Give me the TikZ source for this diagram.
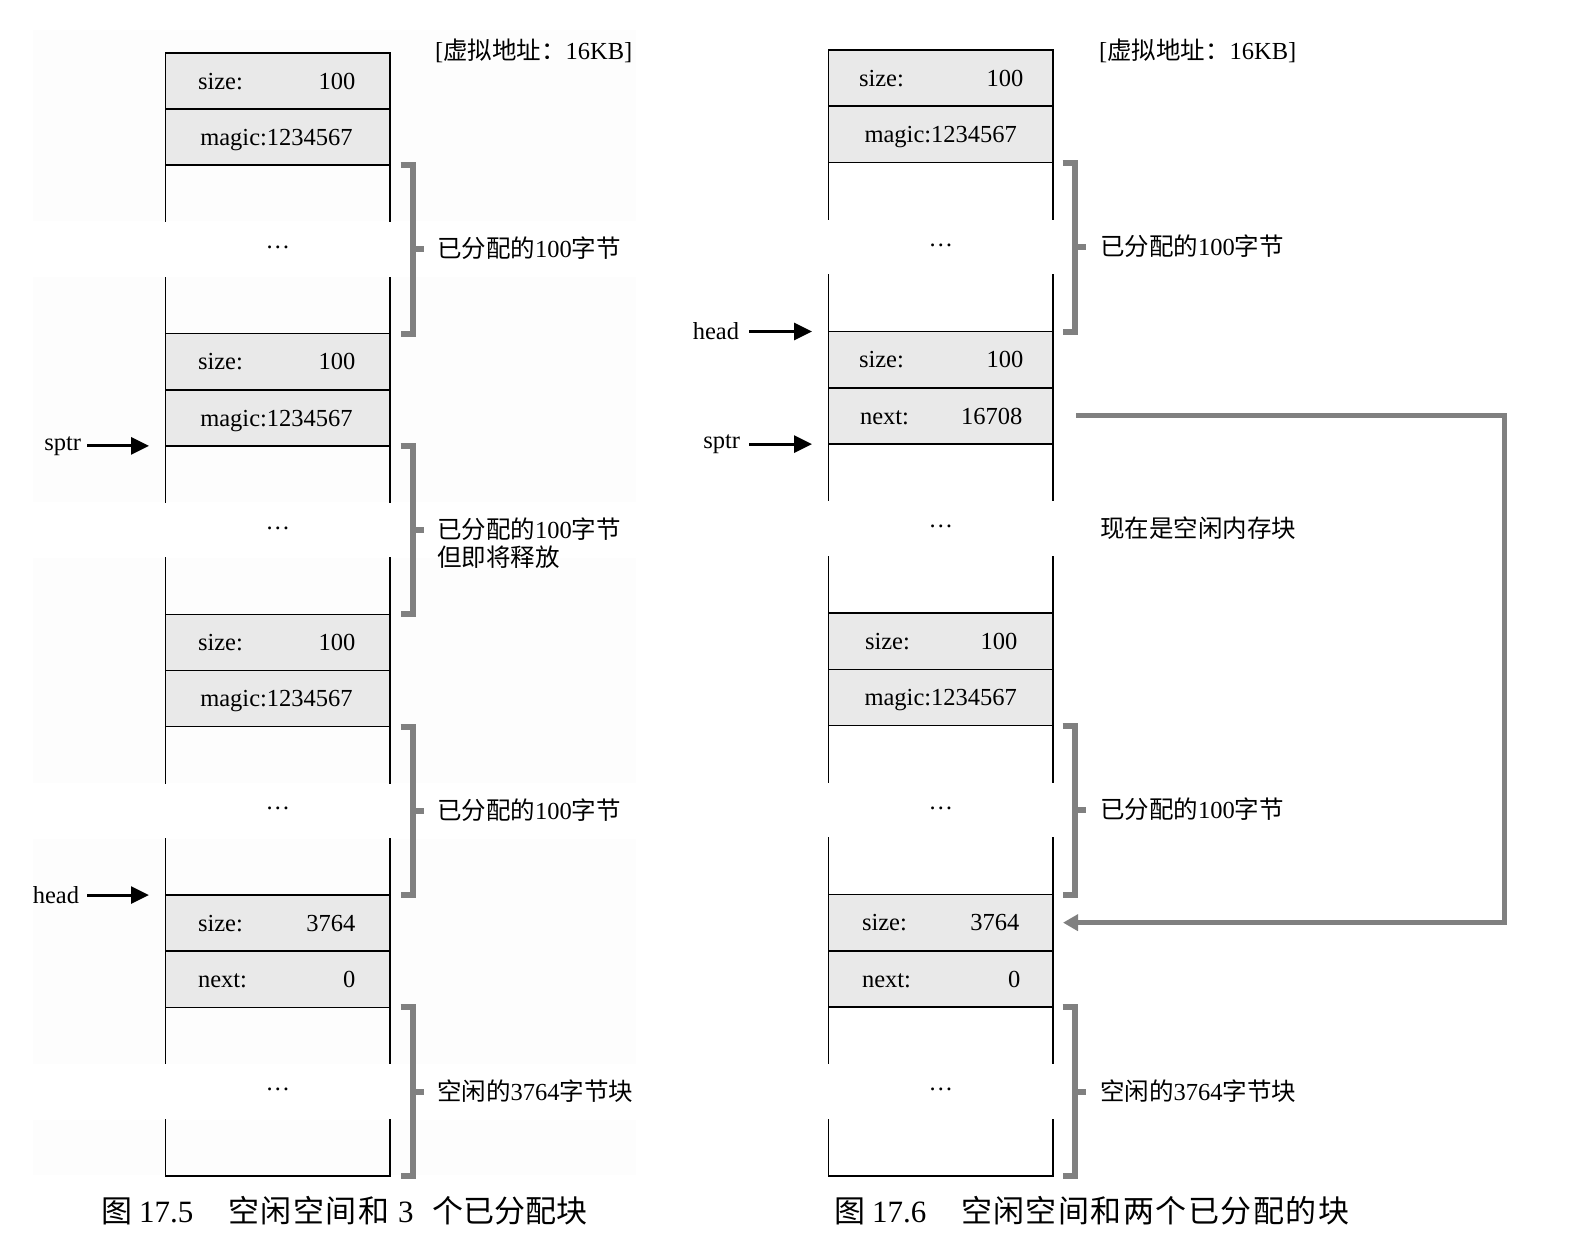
\documentclass[tikz,border=0pt]{standalone}
\usepackage{fontspec}
\setmainfont{Liberation Serif}
\newfontfamily\cjk{Noto Sans CJK SC}
\usetikzlibrary{arrows.meta}
\newcommand{\zh}[1]{{\cjk #1}}
\tikzset{
  lbl/.style={inner sep=0pt, outer sep=0pt, font=\fontsize{24.5}{28}\selectfont},
  hdr/.style={fill=gray!17, draw=black, line width=1.6pt},
  sidel/.style={draw=black, line width=1.6pt, line cap=rect},
  brk/.style={draw=gray, line width=6pt, line join=miter},
  ptr/.style={draw=black, line width=3pt, -{Triangle[length=18pt,width=17pt]}},
  link/.style={draw=gray, line width=5pt, line join=miter, -{Triangle[length=15pt,width=16pt]}},
  figcap/.style={inner sep=0pt, outer sep=0pt, anchor=base west, font=\fontsize{31}{36}\selectfont},
}
% x0 x1 top step
\newcommand{\memcol}[4]{%
  \foreach \b in {0,1,2,3}{%
    \pgfmathsetmacro{\ya}{#3+5*\b*#4}%
    \pgfmathsetmacro{\yb}{\ya+#4}%
    \pgfmathsetmacro{\yc}{\ya+2*#4}%
    \pgfmathsetmacro{\yd}{\ya+3*#4}%
    \pgfmathsetmacro{\ye}{\ya+4*#4}%
    \pgfmathsetmacro{\yf}{\ya+5*#4}%
    \draw[hdr] (#1,\ya) rectangle (#2,\yb);
    \draw[hdr] (#1,\yb) rectangle (#2,\yc);
    \draw[sidel] (#1,\yc) -- (#1,\yd) (#2,\yc) -- (#2,\yd) (#1,\ye) -- (#1,\yf) (#2,\ye) -- (#2,\yf);
  }%
  \draw[sidel] (#1,#3+20*#4) -- (#2,#3+20*#4);
}
% bracket: xv(vertical) ytop ybot
\newcommand{\membrk}[3]{%
  \draw[brk] (#1-12,#2) -- (#1,#2) -- (#1,#3) -- (#1-12,#3);
  \draw[brk] (#1,#2/2+#3/2) -- (#1+11,#2/2+#3/2);
}
\begin{document}
\begin{tikzpicture}[x=1pt,y=-1pt]
\useasboundingbox (0,0) rectangle (1592,1252);
% faint page tint of the left figure
\fill[gray!1.5] (33,30) rectangle (636,1175);
\foreach \k in {3,8,13,18}{
  \fill[white] (33,52.8+\k*56.15) rectangle (636,52.8+\k*56.15+56.15);
}
% columns
\memcol{165.5}{390}{52.8}{56.15}
\memcol{828.5}{1053}{50}{56.3}
% brackets left
\membrk{412.5}{165.1}{333.55}
\membrk{412.5}{445.85}{614.3}
\membrk{412.5}{726.6}{895.05}
\membrk{412.5}{1007.35}{1175.8}
% brackets right
\membrk{1074.5}{162.6}{331.5}
\membrk{1074.5}{725.6}{894.5}
\membrk{1074.5}{1007.1}{1176}

% ---- left column texts ----
\node[lbl, anchor=base west] (La0) at (198, 89.2) {size:};
\node[lbl, anchor=base east] (Lb0) at (355.4, 89.2) {100};
\node[lbl, anchor=base] (Lm0) at (276.5, 145.3) {magic:1234567};
\node[lbl, anchor=base] (Ld0) at (277.75, 248.3) {\textellipsis};
\node[lbl, anchor=base west] (La1) at (198, 369.9) {size:};
\node[lbl, anchor=base east] (Lb1) at (355.4, 369.9) {100};
\node[lbl, anchor=base] (Lm1) at (276.5, 426.1) {magic:1234567};
\node[lbl, anchor=base] (Ld1) at (277.75, 529.1) {\textellipsis};
\node[lbl, anchor=base west] (La2) at (198, 650.7) {size:};
\node[lbl, anchor=base east] (Lb2) at (355.4, 650.7) {100};
\node[lbl, anchor=base] (Lm2) at (276.5, 706.8) {magic:1234567};
\node[lbl, anchor=base] (Ld2) at (277.75, 809.8) {\textellipsis};
\node[lbl, anchor=base west] (La3) at (198, 931.4) {size:};
\node[lbl, anchor=base east] (Lb3) at (355.4, 931.4) {3764};
\node[lbl, anchor=base west] (Ln3) at (198, 987.6) {next:};
\node[lbl, anchor=base east] (Lv3) at (355.4, 987.6) {0};
\node[lbl, anchor=base] (Ld3) at (277.75, 1090.6) {\textellipsis};

\node[lbl, anchor=base west] (Lhd) at (435, 60) {[\zh{虚拟地址：}16KB]};
\node[lbl, anchor=base west] (Lt0) at (437, 257.8) {\zh{已分配的}100\zh{字节}};
\node[lbl, anchor=base west] (Lt1) at (437, 538.6) {\zh{已分配的}100\zh{字节}};
\node[lbl, anchor=base west] (Lt1b) at (437, 566.6) {\zh{但即将释放}};
\node[lbl, anchor=base west] (Lt2) at (437, 819.3) {\zh{已分配的}100\zh{字节}};
\node[lbl, anchor=base west] (Lt3) at (437, 1100.1) {\zh{空闲的}3764\zh{字节块}};

% left pointers
\node[lbl, anchor=east] (Lsptr) at (81, 445.85) {sptr};
\coordinate (Lsp) at (149, 445.85);
\draw[ptr, shorten <=6pt] (Lsptr.east) -- (Lsp);
\node[lbl, anchor=east] (Lhead) at (79, 895.05) {head};
\coordinate (Lhp) at (149, 895.05);
\draw[ptr, shorten <=8pt] (Lhead.east) -- (Lhp);

% ---- right column texts ----
\node[lbl, anchor=base west] (Ra0) at (859, 86.45) {size:};
\node[lbl, anchor=base east] (Rb0) at (1023.4, 86.45) {100};
\node[lbl, anchor=base] (Rm0) at (940.75, 142.75) {magic:1234567};
\node[lbl, anchor=base] (Rd0) at (940.75, 246.05) {\textellipsis};
\node[lbl, anchor=base west] (Ra1) at (859, 367.95) {size:};
\node[lbl, anchor=base east] (Rb1) at (1023.4, 367.95) {100};
\node[lbl, anchor=base west] (Rn1) at (860, 424.25) {next:};
\node[lbl, anchor=base east] (Rv1) at (1022.4, 424.25) {16708};
\node[lbl, anchor=base] (Rd1) at (940.75, 527.55) {\textellipsis};
\node[lbl, anchor=base west] (Ra2) at (865, 649.45) {size:};
\node[lbl, anchor=base east] (Rb2) at (1017.3, 649.45) {100};
\node[lbl, anchor=base] (Rm2) at (940.75, 705.75) {magic:1234567};
\node[lbl, anchor=base] (Rd2) at (940.75, 809.05) {\textellipsis};
\node[lbl, anchor=base west] (Ra3) at (862, 930.95) {size:};
\node[lbl, anchor=base east] (Rb3) at (1019.4, 930.95) {3764};
\node[lbl, anchor=base west] (Rn3) at (862, 987.25) {next:};
\node[lbl, anchor=base east] (Rv3) at (1020.4, 987.25) {0};
\node[lbl, anchor=base] (Rd3) at (940.75, 1090.55) {\textellipsis};

\node[lbl, anchor=base west] (Rhd) at (1099, 59.5) {[\zh{虚拟地址：}16KB]};
\node[lbl, anchor=base west] (Rt0) at (1100, 255.55) {\zh{已分配的}100\zh{字节}};
\node[lbl, anchor=base west] (Rt1) at (1100, 537.05) {\zh{现在是空闲内存块}};
\node[lbl, anchor=base west] (Rt2) at (1100, 818.55) {\zh{已分配的}100\zh{字节}};
\node[lbl, anchor=base west] (Rt3) at (1100, 1100.05) {\zh{空闲的}3764\zh{字节块}};

% right pointers
\node[lbl, anchor=east] (Rhead) at (739, 331.5) {head};
\coordinate (Rhp) at (812, 331.5);
\draw[ptr, shorten <=10pt] (Rhead.east) -- (Rhp);
\node[lbl, anchor=east] (Rsptr) at (740, 444.1) {sptr};
\coordinate (Rsp) at (812, 444.1);
\draw[ptr, shorten <=9pt] (Rsptr.east) -- (Rsp);

% free-list link
\coordinate (Rnext) at (1076, 415.95);
\coordinate (Rsize) at (1063, 922.65);
\draw[link] (Rnext) -- ++(428,0) |- (Rsize);

% captions
\node[figcap] (cap1a) at (101, 1222) {\zh{图}};
\node[figcap] (cap1b) at (139, 1222) {17.5};
\node[figcap] (cap1c) at (228.5, 1222) {\zh{\makebox[161pt][s]{空\hfil 闲\hfil 空\hfil 间\hfil 和}}};
\node[figcap] (cap1d) at (398, 1222) {3};
\node[figcap] (cap1e) at (432, 1222) {\zh{\makebox[151pt][s]{个\hfil 已\hfil 分\hfil 配\hfil 块}}};
\node[figcap] (cap2a) at (834, 1222) {\zh{图}};
\node[figcap] (cap2b) at (872, 1222) {17.6};
\node[figcap] (cap2c) at (961, 1222) {\zh{\makebox[388pt][s]{空\hfil 闲\hfil 空\hfil 间\hfil 和\hfil 两\hfil 个\hfil 已\hfil 分\hfil 配\hfil 的\hfil 块}}};
\end{tikzpicture}
\end{document}
